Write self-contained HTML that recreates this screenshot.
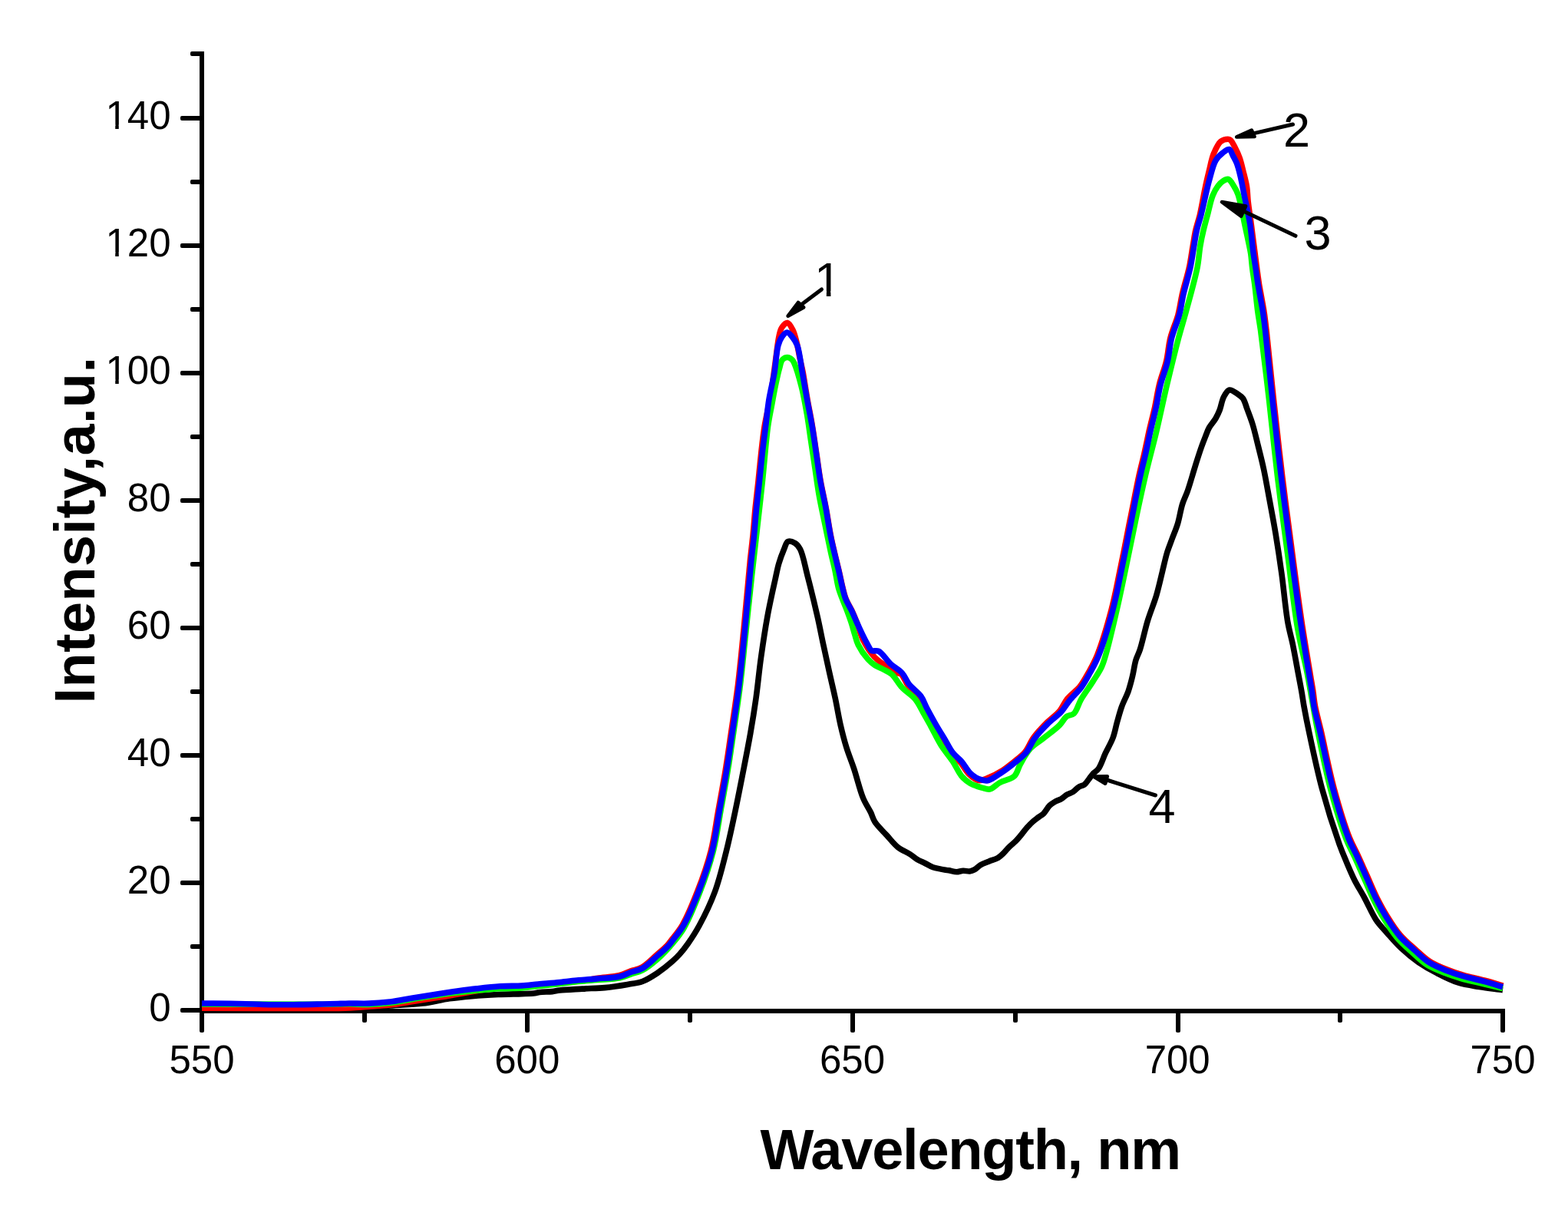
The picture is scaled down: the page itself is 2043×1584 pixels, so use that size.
<!DOCTYPE html>
<html><head><meta charset="utf-8"><title>Intensity vs Wavelength</title>
<style>
html,body{margin:0;padding:0;background:#fff;}
body{width:2043px;height:1584px;overflow:hidden;}
svg{display:block;}
.tk{font-family:"Liberation Sans",Arial,sans-serif;font-size:51px;fill:#000;}
.an{font-family:"Liberation Sans",Arial,sans-serif;font-size:63px;fill:#000;}
.tt{font-family:"Liberation Sans",Arial,sans-serif;font-size:74px;font-weight:bold;fill:#000;}
</style></head><body>
<svg width="2043" height="1584" viewBox="0 0 2043 1584">
<rect width="2043" height="1584" fill="#fff"/>
<rect x="260" y="67" width="6" height="1253" fill="#000"/>
<rect x="260" y="1314" width="1701" height="6" fill="#000"/>
<rect x="235" y="1313.0" width="29" height="6" rx="2" fill="#000"/>
<rect x="248" y="1230.0" width="16" height="6" rx="2" fill="#000"/>
<rect x="235" y="1147.0" width="29" height="6" rx="2" fill="#000"/>
<rect x="248" y="1064.0" width="16" height="6" rx="2" fill="#000"/>
<rect x="235" y="981.0" width="29" height="6" rx="2" fill="#000"/>
<rect x="248" y="898.0" width="16" height="6" rx="2" fill="#000"/>
<rect x="235" y="815.0" width="29" height="6" rx="2" fill="#000"/>
<rect x="248" y="732.0" width="16" height="6" rx="2" fill="#000"/>
<rect x="235" y="649.0" width="29" height="6" rx="2" fill="#000"/>
<rect x="248" y="566.0" width="16" height="6" rx="2" fill="#000"/>
<rect x="235" y="483.0" width="29" height="6" rx="2" fill="#000"/>
<rect x="248" y="400.0" width="16" height="6" rx="2" fill="#000"/>
<rect x="235" y="317.0" width="29" height="6" rx="2" fill="#000"/>
<rect x="248" y="234.0" width="16" height="6" rx="2" fill="#000"/>
<rect x="235" y="151.0" width="29" height="6" rx="2" fill="#000"/>
<rect x="248" y="67.0" width="16" height="6" rx="2" fill="#000"/>
<rect x="260.0" y="1315" width="6" height="30" rx="2" fill="#000"/>
<rect x="472.0" y="1315" width="6" height="17" rx="2" fill="#000"/>
<rect x="684.0" y="1315" width="6" height="30" rx="2" fill="#000"/>
<rect x="896.0" y="1315" width="6" height="17" rx="2" fill="#000"/>
<rect x="1108.0" y="1315" width="6" height="30" rx="2" fill="#000"/>
<rect x="1320.0" y="1315" width="6" height="17" rx="2" fill="#000"/>
<rect x="1532.0" y="1315" width="6" height="30" rx="2" fill="#000"/>
<rect x="1743.0" y="1315" width="6" height="17" rx="2" fill="#000"/>
<rect x="1955.0" y="1315" width="6" height="30" rx="2" fill="#000"/>
<g shape-rendering="auto">
<path d="M263.0,1315.5 C308.7,1315.5 368.0,1316.1 400.0,1315.5 C417.3,1315.2 426.7,1314.6 440.0,1314.0 C453.3,1313.4 467.3,1312.8 480.0,1312.0 C491.5,1311.3 501.6,1310.4 513.0,1309.6 C525.1,1308.8 538.2,1308.6 550.5,1307.1 C562.5,1305.6 574.5,1302.4 585.7,1300.8 C595.9,1299.3 604.9,1298.5 615.0,1297.6 C625.9,1296.7 637.9,1296.0 649.0,1295.5 C659.6,1295.0 671.2,1294.9 680.0,1294.6 C686.5,1294.4 692.8,1294.4 697.0,1293.8 C699.5,1293.5 700.5,1292.8 703.0,1292.5 C707.1,1291.9 714.8,1292.1 719.6,1291.6 C723.3,1291.2 725.2,1290.5 729.4,1290.0 C736.5,1289.2 748.9,1288.7 758.7,1288.1 C768.5,1287.5 778.3,1287.5 788.1,1286.6 C797.9,1285.6 808.7,1283.9 817.5,1282.4 C824.7,1281.2 830.7,1280.8 837.0,1278.5 C843.7,1276.0 850.2,1271.7 856.6,1267.5 C863.3,1263.0 871.0,1256.8 876.2,1252.2 C880.0,1248.9 882.4,1246.6 885.5,1243.1 C889.1,1239.0 892.7,1234.4 896.5,1229.0 C901.1,1222.4 906.0,1215.1 910.9,1206.0 C917.5,1193.9 925.5,1177.6 931.3,1162.0 C937.5,1145.4 941.8,1126.7 946.3,1109.0 C950.7,1091.4 954.4,1073.7 958.1,1056.0 C961.8,1038.4 965.3,1020.2 968.7,1003.0 C971.9,986.6 975.0,970.8 977.8,955.0 C980.5,939.7 982.8,925.5 985.0,909.8 C987.4,892.8 989.0,874.4 991.5,856.7 C994.0,839.0 996.9,819.5 999.8,803.7 C1002.1,790.7 1005.1,777.4 1007.0,768.4 C1008.2,762.9 1008.9,760.0 1010.0,755.0 C1011.4,748.8 1012.8,740.7 1014.8,734.0 C1016.7,727.6 1019.3,720.7 1021.5,715.5 C1023.2,711.6 1024.0,706.7 1026.6,705.5 C1028.9,704.4 1033.2,705.9 1035.8,707.5 C1038.5,709.1 1040.4,711.4 1042.5,715.3 C1046.4,722.6 1048.9,737.7 1052.3,750.7 C1056.4,766.6 1061.6,787.8 1065.2,803.7 C1068.1,816.6 1070.1,827.2 1072.6,839.0 C1075.1,850.8 1077.7,862.6 1080.3,874.4 C1082.9,886.2 1085.8,898.0 1088.3,909.8 C1090.8,921.6 1092.7,934.1 1095.3,945.1 C1097.6,955.0 1099.8,963.8 1102.7,973.1 C1105.6,982.6 1109.3,991.3 1112.7,1001.5 C1116.6,1013.2 1120.2,1029.1 1124.5,1039.4 C1127.6,1047.0 1131.7,1052.6 1134.5,1058.3 C1136.7,1062.9 1137.3,1066.5 1140.0,1070.8 C1143.5,1076.3 1150.1,1082.3 1155.2,1087.9 C1160.2,1093.4 1164.9,1099.8 1170.3,1104.0 C1175.1,1107.8 1181.1,1109.8 1185.5,1112.6 C1189.1,1114.9 1191.7,1117.4 1195.0,1119.4 C1198.3,1121.4 1201.9,1122.8 1205.3,1124.5 C1208.7,1126.2 1212.1,1128.4 1215.6,1129.7 C1218.9,1130.9 1222.4,1131.4 1225.8,1132.1 C1229.2,1132.8 1232.7,1133.2 1236.1,1133.8 C1239.5,1134.4 1243.1,1135.8 1246.4,1135.8 C1249.4,1135.8 1252.1,1134.3 1255.0,1134.2 C1257.8,1134.1 1260.9,1135.3 1263.5,1135.0 C1265.8,1134.7 1267.8,1133.9 1270.0,1132.7 C1272.5,1131.3 1274.7,1128.5 1277.6,1126.8 C1280.9,1124.9 1285.1,1123.5 1288.9,1121.9 C1292.7,1120.4 1297.0,1119.5 1300.3,1117.5 C1303.3,1115.7 1305.4,1113.4 1307.9,1111.0 C1310.5,1108.5 1312.9,1105.2 1315.5,1102.7 C1317.9,1100.3 1320.7,1098.3 1323.0,1096.1 C1325.1,1094.0 1326.6,1092.3 1328.7,1089.8 C1331.4,1086.6 1334.9,1081.7 1337.9,1078.3 C1340.5,1075.4 1342.9,1072.8 1345.5,1070.5 C1347.9,1068.3 1350.5,1066.5 1353.0,1064.6 C1355.3,1062.9 1357.6,1061.8 1359.8,1059.7 C1362.5,1057.0 1364.8,1052.0 1367.6,1049.3 C1370.0,1047.0 1372.6,1045.5 1375.2,1044.0 C1377.6,1042.6 1380.3,1042.1 1382.7,1040.7 C1385.3,1039.2 1387.7,1036.5 1390.3,1035.0 C1392.8,1033.6 1395.5,1033.1 1397.9,1031.6 C1400.6,1029.9 1402.8,1026.8 1405.5,1025.2 C1407.9,1023.7 1410.8,1023.6 1413.0,1022.0 C1415.3,1020.3 1416.9,1017.3 1418.7,1015.0 C1420.5,1012.7 1422.0,1010.2 1424.0,1008.0 C1426.1,1005.7 1429.0,1004.5 1431.2,1001.4 C1434.6,996.7 1437.2,987.9 1440.3,981.2 C1443.5,974.4 1447.5,967.9 1450.1,961.0 C1452.6,954.4 1453.6,947.5 1455.5,940.8 C1457.4,934.1 1459.1,927.3 1461.5,920.6 C1463.9,913.8 1467.7,907.2 1470.1,900.4 C1472.4,893.7 1474.1,887.0 1475.7,880.2 C1477.3,873.5 1478.1,866.0 1479.9,860.0 C1481.4,854.9 1483.4,852.1 1485.3,846.3 C1488.4,836.9 1491.7,820.5 1495.4,808.4 C1498.9,797.0 1503.5,786.4 1506.7,775.6 C1509.7,765.4 1511.9,754.9 1514.3,745.3 C1516.5,736.5 1518.3,727.6 1520.6,720.0 C1522.6,713.5 1524.8,708.4 1527.0,702.3 C1529.4,695.8 1532.3,689.3 1534.5,682.1 C1536.9,674.3 1538.2,664.4 1540.5,657.0 C1542.4,650.8 1545.0,646.2 1547.0,640.5 C1549.2,634.4 1551.1,627.7 1553.0,621.5 C1554.8,615.5 1556.4,610.0 1558.3,603.8 C1560.5,596.9 1563.2,588.4 1565.5,582.0 C1567.3,576.9 1569.0,572.7 1570.7,568.4 C1572.3,564.4 1573.4,560.7 1575.5,557.0 C1577.8,552.9 1581.7,549.0 1584.0,545.0 C1586.1,541.3 1587.6,538.1 1589.2,534.0 C1591.1,529.0 1592.0,521.6 1594.5,517.0 C1596.5,513.3 1598.8,508.7 1601.8,508.0 C1604.9,507.3 1610.0,511.5 1613.1,513.6 C1615.7,515.3 1617.7,516.5 1619.5,519.0 C1621.9,522.4 1623.1,527.9 1625.0,533.0 C1627.2,538.9 1629.8,545.4 1632.0,552.5 C1634.6,560.9 1636.8,571.0 1639.2,580.5 C1641.7,590.4 1644.2,600.1 1646.5,611.0 C1649.2,623.6 1651.6,638.0 1654.2,651.8 C1656.8,665.9 1659.5,679.8 1662.0,694.8 C1664.7,711.2 1667.3,728.4 1669.8,746.5 C1672.6,766.6 1674.8,792.8 1677.8,810.0 C1679.9,821.9 1682.3,829.3 1684.5,840.0 C1687.0,852.4 1689.9,868.9 1692.0,880.0 C1693.5,887.9 1694.6,893.5 1695.8,900.2 C1697.0,906.8 1697.7,912.6 1699.0,920.0 C1700.7,929.3 1702.5,938.8 1705.2,951.5 C1709.4,971.3 1715.8,1002.4 1722.5,1027.3 C1729.1,1051.9 1739.1,1083.0 1745.2,1100.0 C1748.6,1109.4 1750.7,1114.2 1753.9,1121.7 C1757.3,1129.8 1761.0,1138.7 1765.0,1146.7 C1768.9,1154.4 1773.2,1161.0 1777.5,1168.9 C1782.4,1177.9 1787.4,1190.0 1792.8,1198.1 C1797.2,1204.7 1801.6,1208.9 1806.7,1214.7 C1812.6,1221.3 1819.2,1229.1 1826.1,1235.6 C1833.0,1242.1 1840.6,1248.2 1848.3,1253.6 C1855.9,1258.8 1863.6,1263.2 1871.9,1267.5 C1880.7,1272.0 1890.3,1277.0 1899.7,1280.0 C1908.8,1282.9 1918.0,1284.0 1927.5,1285.6 C1937.4,1287.3 1947.8,1288.3 1958.0,1289.7" fill="none" stroke="#000" stroke-width="7.6" stroke-linejoin="round" stroke-linecap="butt"/>
<path d="M263.0,1313.3 C325.3,1313.2 420.5,1313.9 450.0,1313.1 C459.2,1312.9 462.6,1312.5 468.0,1312.2 C472.4,1311.9 475.2,1311.7 480.0,1311.3 C487.4,1310.7 498.7,1310.1 508.0,1309.0 C517.5,1307.9 526.3,1306.3 536.4,1304.7 C548.1,1302.9 562.9,1300.6 574.0,1298.8 C582.8,1297.4 589.7,1296.1 597.5,1294.8 C605.3,1293.5 612.6,1292.1 621.0,1290.8 C630.5,1289.3 641.5,1287.4 651.5,1286.3 C661.1,1285.3 669.7,1285.2 680.0,1284.5 C692.2,1283.6 706.7,1282.5 720.0,1281.3 C733.3,1280.1 749.3,1279.0 760.0,1277.5 C767.3,1276.5 771.4,1275.3 778.2,1274.2 C786.8,1272.9 799.5,1272.5 807.4,1270.5 C813.2,1269.1 817.1,1266.6 821.9,1264.9 C826.7,1263.2 831.3,1262.8 836.2,1260.1 C842.5,1256.6 849.8,1249.0 855.6,1243.9 C860.6,1239.5 865.6,1235.5 869.2,1231.6 C872.1,1228.5 873.6,1226.1 876.3,1222.6 C880.0,1217.7 884.8,1212.3 889.2,1204.8 C895.6,1193.8 902.6,1176.8 908.6,1161.5 C915.1,1144.9 921.7,1126.4 926.2,1108.6 C930.7,1091.2 932.7,1073.4 935.9,1055.7 C939.1,1038.1 942.5,1020.0 945.3,1002.8 C948.0,986.4 950.0,971.9 952.5,954.8 C955.4,935.2 958.8,913.5 961.5,891.9 C964.3,869.1 966.4,846.3 968.9,821.3 C971.7,792.8 975.1,752.6 977.4,729.9 C978.8,716.3 979.9,708.4 981.0,697.4 C982.2,685.8 982.9,673.7 984.1,662.0 C985.3,650.2 986.8,638.4 988.0,626.6 C989.3,614.8 990.3,603.0 991.6,591.2 C992.9,579.4 994.1,568.0 996.0,555.9 C998.1,543.0 1001.9,528.2 1004.0,516.0 C1005.7,505.9 1006.7,497.2 1008.0,488.0 C1009.2,479.2 1010.3,470.5 1011.5,462.0 C1012.6,453.8 1013.5,444.4 1015.0,438.0 C1016.0,433.6 1016.5,430.0 1018.5,427.0 C1020.3,424.2 1023.7,420.2 1026.0,420.5 C1028.5,420.8 1031.1,426.2 1033.0,430.0 C1035.3,434.5 1036.6,440.3 1038.0,446.0 C1039.6,452.3 1040.6,459.5 1042.0,466.0 C1043.3,472.2 1044.6,476.9 1046.0,484.0 C1047.9,494.0 1049.9,508.5 1052.1,520.6 C1054.2,532.5 1056.7,544.2 1058.6,556.0 C1060.6,567.8 1062.1,579.6 1063.9,591.4 C1065.7,603.1 1067.1,615.0 1069.2,626.7 C1071.3,638.5 1074.1,650.3 1076.3,662.0 C1078.5,673.8 1080.3,687.0 1082.4,697.4 C1084.0,705.8 1085.6,712.4 1087.4,719.9 C1089.1,727.5 1091.1,735.0 1092.9,742.6 C1094.7,750.2 1096.3,758.6 1098.0,765.4 C1099.4,771.0 1100.3,775.6 1102.3,780.5 C1104.3,785.6 1107.7,790.6 1110.1,795.7 C1112.4,800.7 1114.3,805.3 1116.5,810.9 C1119.0,817.4 1120.5,825.4 1124.0,832.5 C1127.9,840.4 1134.1,850.1 1139.5,856.0 C1143.6,860.4 1147.7,862.7 1152.0,866.0 C1156.5,869.5 1161.8,874.7 1166.0,876.5 C1168.8,877.7 1171.3,876.2 1173.7,877.8 C1177.3,880.3 1179.3,888.1 1183.1,893.0 C1187.3,898.2 1194.4,902.7 1198.2,908.0 C1201.6,912.7 1202.8,917.6 1205.6,922.9 C1209.0,929.3 1213.2,937.0 1217.1,943.8 C1220.8,950.3 1224.7,956.4 1228.5,962.7 C1232.3,969.1 1235.7,976.5 1239.9,981.9 C1243.5,986.5 1247.7,989.1 1251.4,993.3 C1255.4,997.9 1258.5,1004.6 1262.8,1008.6 C1266.5,1012.1 1270.7,1015.9 1274.8,1016.6 C1278.5,1017.3 1281.9,1015.4 1286.1,1013.8 C1291.8,1011.7 1299.7,1007.7 1305.6,1004.0 C1311.1,1000.6 1315.7,996.6 1320.7,992.6 C1325.7,988.5 1331.2,984.7 1335.5,979.6 C1340.0,974.2 1342.3,966.7 1346.7,960.6 C1351.6,954.0 1358.0,947.3 1363.8,941.4 C1369.3,935.9 1376.0,931.6 1380.6,926.1 C1384.8,921.1 1386.5,915.2 1390.7,910.1 C1395.2,904.5 1402.4,900.0 1407.1,894.2 C1411.6,888.5 1414.8,882.1 1418.5,875.6 C1422.4,868.5 1425.9,862.6 1429.7,853.1 C1435.6,838.4 1442.8,814.2 1448.0,794.5 C1453.1,775.1 1456.6,755.4 1460.7,735.8 C1464.8,716.3 1468.5,696.7 1472.4,677.1 C1476.4,657.6 1480.8,634.1 1484.3,618.3 C1486.6,607.7 1488.6,600.9 1490.7,591.7 C1492.9,582.0 1495.0,571.5 1497.2,561.4 C1499.5,551.3 1502.2,541.3 1504.5,531.1 C1506.7,521.1 1508.0,510.8 1510.5,500.8 C1513.0,490.6 1517.2,480.7 1519.6,470.5 C1522.0,460.5 1522.4,450.2 1524.9,440.2 C1527.5,430.0 1532.3,419.8 1535.0,409.9 C1537.4,400.6 1538.3,392.2 1540.5,382.6 C1543.0,371.8 1547.1,359.0 1549.5,348.0 C1551.6,338.1 1552.8,328.3 1554.3,319.7 C1555.6,312.5 1556.3,306.5 1557.8,299.9 C1559.4,293.1 1561.6,287.3 1563.4,279.6 C1565.7,269.9 1567.8,256.3 1570.0,246.0 C1571.8,237.3 1573.6,229.8 1575.5,222.0 C1577.3,214.6 1578.6,206.8 1581.3,200.3 C1583.8,194.4 1586.8,187.4 1590.6,184.3 C1593.3,182.1 1597.6,181.2 1599.9,181.2 C1601.3,181.2 1602.1,181.5 1603.2,182.4 C1605.2,184.0 1607.3,188.7 1609.2,192.3 C1611.3,196.3 1613.4,200.8 1615.1,205.6 C1617.0,210.9 1618.3,216.8 1619.8,222.8 C1621.4,229.2 1623.3,236.0 1624.4,242.7 C1625.5,249.3 1625.4,255.3 1626.2,262.6 C1627.2,271.5 1628.7,280.5 1630.2,292.0 C1632.3,308.1 1635.8,335.7 1637.7,350.0 C1638.8,358.3 1639.3,362.2 1640.5,369.8 C1642.1,379.8 1645.1,394.2 1646.8,405.0 C1648.2,414.0 1648.7,418.9 1650.0,429.8 C1652.4,450.7 1656.1,489.7 1659.5,520.8 C1663.1,553.6 1666.8,588.1 1670.9,621.7 C1675.0,655.4 1679.7,690.2 1684.0,722.6 C1688.0,752.7 1691.9,782.3 1696.0,809.8 C1699.7,834.4 1704.7,863.5 1707.4,879.8 C1708.8,888.5 1709.8,893.3 1710.8,900.0 C1711.8,906.6 1712.1,912.4 1713.5,919.7 C1715.2,929.0 1718.0,938.4 1721.0,951.2 C1725.6,970.9 1731.6,1002.8 1738.1,1026.9 C1744.2,1049.4 1752.2,1075.7 1758.4,1091.5 C1762.2,1101.1 1765.5,1106.1 1769.2,1114.1 C1773.2,1122.8 1777.5,1132.6 1781.7,1141.9 C1785.8,1151.1 1789.7,1160.7 1794.1,1169.6 C1798.5,1178.2 1802.9,1186.5 1808.0,1194.5 C1813.0,1202.6 1818.3,1210.9 1824.4,1218.0 C1830.3,1224.9 1837.3,1230.6 1843.8,1236.4 C1850.1,1242.0 1856.0,1248.0 1863.0,1252.5 C1870.1,1257.1 1878.7,1260.4 1886.4,1263.4 C1893.4,1266.2 1899.7,1268.1 1907.1,1270.3 C1915.6,1272.7 1926.0,1274.8 1934.8,1277.2 C1943.0,1279.4 1950.5,1281.8 1958.4,1284.1" fill="none" stroke="#ff0000" stroke-width="7.6" stroke-linejoin="round" stroke-linecap="butt"/>
<path d="M263.0,1308.0 C315.3,1308.1 386.4,1308.4 420.0,1308.2 C435.9,1308.1 444.3,1307.7 455.0,1307.8 C464.0,1307.9 471.4,1308.7 480.0,1308.5 C489.1,1308.3 498.7,1307.6 508.0,1306.5 C517.5,1305.4 526.3,1303.4 536.4,1301.7 C548.1,1299.8 562.9,1297.4 574.0,1295.8 C582.7,1294.6 589.7,1293.7 597.5,1292.8 C605.3,1291.9 612.7,1291.1 621.0,1290.3 C630.5,1289.4 641.5,1288.3 651.5,1287.8 C661.2,1287.3 671.2,1287.6 680.0,1287.0 C687.5,1286.4 693.5,1285.3 701.0,1284.5 C709.8,1283.5 720.3,1282.5 729.4,1281.5 C737.8,1280.5 745.6,1279.3 753.8,1278.5 C761.9,1277.7 769.8,1277.2 778.3,1276.5 C787.7,1275.7 799.7,1275.5 807.7,1273.8 C813.5,1272.6 817.5,1270.4 822.4,1268.8 C827.3,1267.2 832.0,1266.6 837.0,1264.0 C843.3,1260.7 850.3,1255.1 856.6,1249.5 C863.4,1243.5 870.3,1236.0 876.2,1229.0 C881.7,1222.5 886.1,1217.4 891.0,1209.0 C897.9,1197.1 905.3,1179.1 911.5,1163.0 C918.1,1145.9 924.6,1127.1 929.2,1109.0 C933.7,1091.4 935.8,1073.7 939.0,1056.0 C942.2,1038.3 945.6,1020.2 948.4,1003.0 C951.1,986.6 953.1,972.1 955.6,955.0 C958.4,935.5 961.8,913.7 964.5,892.1 C967.3,869.2 969.5,845.0 972.0,821.4 C974.5,797.8 977.1,772.6 979.5,750.7 C981.6,731.7 983.4,716.5 985.5,697.5 C988.0,675.6 990.9,650.4 993.4,626.8 C995.9,603.2 998.0,574.2 1000.5,556.0 C1002.1,544.5 1003.8,537.1 1005.5,528.0 C1007.1,519.4 1008.5,511.1 1010.2,503.0 C1011.8,495.2 1013.7,486.3 1015.5,480.0 C1016.8,475.5 1017.3,470.9 1019.5,468.5 C1021.1,466.7 1023.7,465.5 1025.8,465.5 C1027.9,465.5 1030.5,467.1 1032.0,468.5 C1033.3,469.7 1033.8,470.7 1034.8,473.0 C1037.3,478.5 1041.4,492.5 1044.1,503.0 C1047.0,514.2 1049.1,526.6 1051.2,538.4 C1053.3,550.1 1054.7,561.9 1056.5,573.7 C1058.3,585.5 1060.0,597.3 1061.8,609.1 C1063.6,620.9 1065.0,632.7 1067.1,644.5 C1069.2,656.3 1071.7,667.7 1074.2,679.8 C1076.9,692.8 1080.1,708.5 1082.6,720.0 C1084.5,728.7 1086.3,735.1 1087.9,742.7 C1089.5,750.3 1090.6,758.7 1092.4,765.5 C1093.9,771.1 1095.8,775.6 1097.7,780.6 C1099.6,785.7 1101.9,790.7 1103.8,795.8 C1105.7,800.8 1107.5,805.8 1109.1,810.9 C1110.7,815.9 1112.1,821.2 1113.6,826.1 C1115.1,830.8 1115.8,835.2 1118.2,840.0 C1121.1,845.9 1126.5,853.8 1130.7,858.5 C1133.8,862.0 1136.7,864.3 1140.0,866.5 C1143.2,868.6 1146.5,869.6 1150.0,871.5 C1153.8,873.6 1158.2,875.1 1162.0,878.4 C1166.7,882.5 1170.2,890.2 1175.2,895.5 C1180.3,901.0 1187.5,904.9 1192.3,910.6 C1197.0,916.2 1200.0,923.3 1203.6,929.5 C1207.0,935.3 1209.7,940.4 1213.1,946.6 C1217.2,954.0 1221.5,963.5 1226.4,971.2 C1231.1,978.6 1237.0,985.1 1241.5,992.0 C1245.7,998.4 1248.7,1006.0 1252.9,1011.0 C1256.4,1015.1 1259.9,1018.0 1264.2,1020.5 C1268.7,1023.1 1274.8,1024.8 1279.4,1026.1 C1283.1,1027.1 1286.0,1028.7 1289.5,1028.0 C1293.8,1027.2 1297.8,1022.2 1302.7,1019.5 C1308.4,1016.4 1317.2,1015.3 1321.7,1011.0 C1325.7,1007.1 1326.2,1001.2 1329.2,995.8 C1332.9,989.3 1337.2,980.8 1342.5,975.0 C1347.4,969.6 1353.6,966.4 1359.5,961.7 C1366.1,956.4 1375.0,950.1 1380.4,944.7 C1384.4,940.7 1386.3,935.9 1389.8,933.3 C1392.7,931.2 1396.5,932.0 1399.3,929.5 C1403.3,925.8 1405.0,917.1 1408.8,910.6 C1413.1,903.3 1419.3,895.2 1423.9,887.9 C1428.0,881.3 1432.4,875.2 1435.3,868.9 C1437.9,863.2 1438.9,859.4 1441.0,852.0 C1444.9,838.7 1450.6,814.2 1455.0,795.0 C1459.5,775.6 1463.5,755.8 1467.6,736.2 C1471.7,716.6 1475.5,697.0 1479.7,677.5 C1483.8,658.0 1488.0,638.4 1492.5,619.0 C1497.0,599.8 1502.2,581.2 1506.8,561.8 C1511.5,541.9 1515.7,521.4 1520.5,501.2 C1525.3,481.0 1530.9,458.1 1535.5,440.6 C1539.1,427.2 1541.9,418.4 1545.5,405.2 C1550.0,388.5 1557.0,364.1 1560.1,348.3 C1562.2,337.3 1562.4,328.6 1563.9,320.0 C1565.1,312.8 1566.4,306.8 1568.0,300.2 C1569.6,293.5 1571.4,287.1 1573.3,280.0 C1575.4,272.1 1577.3,261.7 1580.0,255.0 C1582.0,250.0 1584.1,246.0 1586.6,242.7 C1588.6,239.9 1590.8,237.5 1593.3,236.0 C1595.5,234.6 1598.3,232.9 1600.5,233.5 C1603.2,234.3 1605.7,239.4 1607.8,242.7 C1609.9,246.0 1611.6,249.3 1613.1,253.3 C1614.8,258.0 1615.8,263.6 1617.1,269.2 C1618.5,275.4 1619.7,282.2 1621.1,289.1 C1622.6,296.5 1624.5,304.8 1626.0,312.0 C1627.3,318.4 1628.6,323.8 1629.6,330.0 C1630.6,336.5 1630.9,343.5 1631.8,350.2 C1632.6,356.8 1633.7,362.4 1634.7,370.0 C1636.0,380.0 1637.3,394.5 1638.7,405.2 C1639.9,414.2 1641.0,419.1 1642.5,430.0 C1645.3,450.8 1649.9,489.9 1653.5,521.0 C1657.3,553.8 1660.6,588.3 1664.6,621.9 C1668.7,655.6 1673.4,689.5 1677.8,722.8 C1682.1,755.4 1686.0,791.9 1690.9,819.7 C1694.6,841.0 1699.0,855.7 1703.0,875.8 C1707.6,899.1 1711.7,926.3 1716.8,951.5 C1721.9,976.8 1727.1,1003.1 1733.5,1027.3 C1739.6,1050.1 1747.7,1076.9 1754.0,1093.0 C1757.8,1102.8 1761.1,1107.9 1764.8,1116.0 C1768.9,1124.9 1773.1,1134.7 1777.3,1144.0 C1781.5,1153.3 1785.3,1163.0 1789.8,1172.0 C1794.1,1180.8 1798.6,1189.3 1803.7,1197.5 C1808.8,1205.8 1814.2,1214.2 1820.3,1221.5 C1826.2,1228.5 1833.2,1234.5 1839.8,1240.5 C1846.2,1246.3 1852.1,1252.3 1859.2,1256.8 C1866.4,1261.3 1875.1,1264.5 1882.8,1267.5 C1889.9,1270.3 1896.2,1272.3 1903.7,1274.5 C1912.2,1277.0 1922.3,1279.0 1931.4,1281.2 C1940.4,1283.3 1949.1,1285.4 1958.0,1287.5" fill="none" stroke="#00ff00" stroke-width="7.6" stroke-linejoin="round" stroke-linecap="butt"/>
<path d="M263.0,1307.0 C275.3,1307.1 288.3,1307.0 300.0,1307.2 C310.5,1307.4 320.6,1307.7 330.0,1308.0 C338.4,1308.3 345.2,1308.7 354.0,1308.8 C364.8,1308.9 378.5,1308.7 390.0,1308.6 C400.5,1308.5 411.0,1308.2 420.0,1308.0 C427.3,1307.8 433.8,1307.7 440.0,1307.5 C445.4,1307.3 449.4,1307.1 455.0,1307.0 C462.3,1306.9 471.4,1307.4 480.0,1307.1 C489.1,1306.8 498.7,1306.1 508.0,1305.0 C517.5,1303.8 526.3,1301.9 536.4,1300.2 C548.1,1298.3 562.9,1296.0 574.0,1294.3 C582.7,1293.0 589.7,1291.9 597.5,1290.8 C605.3,1289.7 612.6,1288.7 621.0,1287.8 C630.5,1286.7 641.5,1285.4 651.5,1284.8 C661.2,1284.2 671.2,1284.5 680.0,1284.0 C687.5,1283.5 693.5,1282.7 701.0,1282.0 C709.8,1281.2 720.3,1280.4 729.4,1279.5 C737.8,1278.7 745.7,1277.6 753.8,1276.8 C762.0,1276.0 769.8,1275.7 778.3,1274.9 C787.7,1274.1 799.7,1273.9 807.7,1272.0 C813.6,1270.6 817.5,1268.1 822.4,1266.3 C827.3,1264.5 832.0,1264.2 837.0,1261.4 C843.4,1257.8 850.7,1250.1 856.6,1245.0 C861.6,1240.6 866.6,1236.6 870.3,1232.6 C873.2,1229.5 874.8,1227.1 877.5,1223.5 C881.2,1218.5 886.1,1213.1 890.5,1205.5 C896.9,1194.4 904.0,1177.4 910.0,1162.0 C916.5,1145.4 923.1,1126.8 927.7,1109.0 C932.2,1091.5 934.2,1073.7 937.4,1056.0 C940.6,1038.3 944.0,1020.2 946.8,1003.0 C949.5,986.6 951.5,972.1 954.0,955.0 C956.9,935.5 960.3,913.7 963.0,892.1 C965.8,869.2 967.9,846.5 970.4,821.4 C973.2,792.9 976.6,752.8 978.9,730.0 C980.3,716.4 981.4,708.6 982.5,697.5 C983.6,686.0 984.4,673.9 985.6,662.1 C986.8,650.3 988.3,638.6 989.5,626.8 C990.8,615.0 991.8,603.2 993.1,591.4 C994.4,579.6 996.0,567.9 997.5,556.1 C999.0,544.3 1000.0,532.5 1001.9,520.7 C1003.8,508.9 1007.0,497.2 1009.0,485.4 C1011.0,473.6 1011.5,458.4 1013.9,450.0 C1015.3,445.0 1016.8,441.5 1019.0,438.5 C1020.8,436.1 1023.3,433.0 1025.5,433.0 C1027.7,433.0 1030.0,436.1 1032.0,438.5 C1034.5,441.5 1036.9,444.9 1038.8,450.0 C1041.9,458.4 1043.3,473.6 1045.4,485.4 C1047.5,497.2 1049.5,508.9 1051.6,520.7 C1053.8,532.5 1056.3,544.3 1058.3,556.1 C1060.3,567.9 1061.8,579.6 1063.6,591.4 C1065.4,603.2 1066.8,615.0 1068.9,626.8 C1071.0,638.6 1073.8,650.3 1076.0,662.1 C1078.2,673.9 1080.0,687.1 1082.1,697.5 C1083.7,705.9 1085.4,712.5 1087.1,720.0 C1088.9,727.6 1090.8,735.1 1092.6,742.7 C1094.4,750.3 1096.0,758.7 1097.7,765.5 C1099.1,771.1 1100.0,775.7 1102.0,780.6 C1104.0,785.8 1107.4,790.7 1109.8,795.8 C1112.2,800.8 1114.1,805.9 1116.4,810.9 C1118.7,816.0 1121.1,821.2 1123.5,826.1 C1125.8,830.9 1128.5,836.1 1130.7,840.0 C1132.4,842.9 1133.2,846.1 1135.5,847.5 C1137.9,848.9 1141.6,846.8 1144.8,848.3 C1149.8,850.7 1155.2,860.1 1160.5,865.0 C1165.3,869.4 1171.1,872.0 1175.2,876.5 C1179.2,880.9 1180.8,886.9 1184.7,891.7 C1188.9,897.0 1195.9,901.4 1199.8,906.8 C1203.3,911.6 1204.6,916.6 1207.4,922.0 C1210.8,928.4 1214.9,936.1 1218.8,942.8 C1222.5,949.3 1226.4,955.4 1230.2,961.7 C1234.0,968.0 1237.4,975.4 1241.5,980.7 C1245.0,985.2 1249.3,987.8 1252.9,992.0 C1256.9,996.6 1260.1,1003.3 1264.2,1007.2 C1267.7,1010.5 1271.6,1013.2 1275.6,1014.8 C1279.3,1016.2 1282.8,1017.5 1287.0,1016.7 C1292.8,1015.6 1300.5,1009.3 1306.5,1005.3 C1312.0,1001.7 1316.7,997.9 1321.7,993.9 C1326.8,989.8 1332.5,985.9 1336.8,980.7 C1341.4,975.2 1343.7,967.8 1348.2,961.7 C1353.0,955.1 1359.4,948.6 1365.2,942.8 C1370.7,937.3 1377.4,933.0 1382.3,927.7 C1386.7,922.9 1389.4,917.6 1393.6,912.5 C1398.2,906.9 1404.3,901.5 1408.8,895.5 C1413.2,889.5 1416.5,883.2 1420.2,876.5 C1424.1,869.3 1427.7,863.3 1431.5,853.8 C1437.5,839.0 1444.6,814.7 1449.8,795.0 C1454.9,775.5 1458.4,755.8 1462.5,736.2 C1466.6,716.6 1470.3,697.1 1474.2,677.5 C1478.1,657.9 1482.5,634.4 1486.0,618.7 C1488.3,608.1 1490.3,601.3 1492.4,592.1 C1494.6,582.3 1496.6,571.9 1498.9,561.8 C1501.2,551.7 1503.9,541.6 1506.1,531.5 C1508.3,521.4 1509.6,511.2 1512.1,501.2 C1514.6,491.0 1518.8,481.1 1521.2,470.9 C1523.6,460.9 1524.0,450.6 1526.5,440.6 C1529.1,430.4 1533.9,420.2 1536.5,410.3 C1539.0,401.0 1539.8,392.6 1542.0,383.0 C1544.5,372.1 1548.6,359.3 1551.0,348.3 C1553.1,338.4 1554.3,328.6 1555.8,320.0 C1557.0,312.8 1557.8,306.8 1559.3,300.2 C1560.8,293.5 1562.8,288.1 1564.9,280.0 C1568.0,267.9 1572.0,247.6 1575.6,234.7 C1578.4,224.9 1580.3,215.3 1584.0,209.0 C1586.6,204.5 1590.1,201.5 1593.3,199.0 C1596.0,196.9 1599.3,193.9 1601.5,194.5 C1603.7,195.1 1604.9,200.0 1606.5,202.9 C1608.1,205.9 1609.8,208.6 1611.2,212.2 C1613.0,216.7 1614.4,222.2 1615.8,228.1 C1617.6,235.2 1618.9,243.0 1620.7,252.0 C1623.0,263.5 1626.5,278.4 1628.6,291.5 C1630.6,304.4 1631.6,319.2 1633.1,330.0 C1634.2,337.8 1635.2,343.5 1636.2,350.2 C1637.2,356.8 1637.8,362.5 1639.0,370.0 C1640.6,380.1 1643.6,394.5 1645.3,405.2 C1646.7,414.2 1647.2,419.1 1648.5,430.0 C1650.9,450.8 1654.6,489.9 1658.0,521.0 C1661.6,553.8 1665.3,588.3 1669.4,621.9 C1673.5,655.6 1678.2,690.4 1682.5,722.8 C1686.5,752.9 1690.4,782.6 1694.5,810.0 C1698.2,834.6 1703.2,863.7 1705.9,880.0 C1707.4,888.8 1708.3,893.5 1709.3,900.2 C1710.3,906.8 1710.6,912.7 1712.0,920.0 C1713.7,929.3 1716.5,938.7 1719.5,951.5 C1724.1,971.3 1730.2,1003.2 1736.7,1027.3 C1742.8,1049.8 1750.8,1076.1 1757.0,1092.0 C1760.8,1101.7 1764.1,1106.7 1767.8,1114.7 C1771.9,1123.5 1776.1,1133.2 1780.3,1142.5 C1784.5,1151.8 1788.3,1161.4 1792.8,1170.3 C1797.1,1178.9 1801.6,1187.2 1806.7,1195.3 C1811.8,1203.4 1817.2,1211.9 1823.3,1219.0 C1829.2,1225.9 1836.2,1231.6 1842.8,1237.5 C1849.2,1243.2 1855.1,1249.3 1862.2,1253.8 C1869.4,1258.4 1878.1,1261.7 1885.8,1264.8 C1892.9,1267.6 1899.2,1269.5 1906.7,1271.7 C1915.2,1274.2 1925.6,1276.2 1934.4,1278.6 C1942.6,1280.8 1950.1,1283.2 1958.0,1285.5" fill="none" stroke="#0000ff" stroke-width="7.6" stroke-linejoin="round" stroke-linecap="butt"/>
</g>
<defs><clipPath id="c1_100"><path clip-rule="evenodd" d="M0,0 H2043 V1584 H0 Z M140.90,494.57 H150.23 V502.30 H140.90 Z M154.74,494.57 H164.55 V502.30 H154.74 Z"/></clipPath><clipPath id="c1_120"><path clip-rule="evenodd" d="M0,0 H2043 V1584 H0 Z M140.90,328.57 H150.23 V336.30 H140.90 Z M154.74,328.57 H164.55 V336.30 H154.74 Z"/></clipPath><clipPath id="c1_140"><path clip-rule="evenodd" d="M0,0 H2043 V1584 H0 Z M140.90,162.57 H150.23 V170.30 H140.90 Z M154.74,162.57 H164.55 V170.30 H154.74 Z"/></clipPath><clipPath id="c1_ann"><path clip-rule="evenodd" d="M0,0 H2043 V1584 H0 Z M1065.31,378.92 H1076.84 V388.00 H1065.31 Z M1082.41,378.92 H1094.53 V388.00 H1082.41 Z"/></clipPath></defs>
<path d="M1045.5,395.8 L1070.5,377.0" stroke="#000" stroke-width="5.0" stroke-linecap="round" fill="none"/><path d="M1026.7,411.6 L1040.0,394.1 L1047.1,400.4 Z" fill="#000" stroke="#000" stroke-width="4.8" stroke-linejoin="round"/>
<path d="M1635.1,173.4 L1684.5,162.0" stroke="#000" stroke-width="5.0" stroke-linecap="round" fill="none"/><path d="M1611.3,178.4 L1630.8,169.7 L1634.4,177.9 Z" fill="#000" stroke="#000" stroke-width="4.8" stroke-linejoin="round"/>
<path d="M1622.2,276.0 L1688.0,307.3" stroke="#000" stroke-width="5.0" stroke-linecap="round" fill="none"/><path d="M1592.1,263.1 L1623.0,268.5 L1617.1,281.6 Z" fill="#000" stroke="#000" stroke-width="4.8" stroke-linejoin="round"/>
<path d="M1443.8,1016.5 L1505.5,1036.0" stroke="#000" stroke-width="5.0" stroke-linecap="round" fill="none"/><path d="M1425.3,1011.7 L1442.7,1011.3 L1440.1,1020.6 Z" fill="#000" stroke="#000" stroke-width="4.8" stroke-linejoin="round"/>
<text x="222.5" y="1330.3" text-anchor="end" class="tk">0</text>
<text x="222.5" y="1164.3" text-anchor="end" class="tk">20</text>
<text x="222.5" y="998.3" text-anchor="end" class="tk">40</text>
<text x="222.5" y="832.3" text-anchor="end" class="tk">60</text>
<text x="222.5" y="666.3" text-anchor="end" class="tk">80</text>
<text x="222.5" y="500.3" text-anchor="end" class="tk" clip-path="url(#c1_100)">100</text>
<text x="222.5" y="334.3" text-anchor="end" class="tk" clip-path="url(#c1_120)">120</text>
<text x="222.5" y="168.3" text-anchor="end" class="tk" clip-path="url(#c1_140)">140</text>
<text x="263.0" y="1398" text-anchor="middle" class="tk">550</text>
<text x="686.8" y="1398" text-anchor="middle" class="tk">600</text>
<text x="1110.5" y="1398" text-anchor="middle" class="tk">650</text>
<text x="1534.2" y="1398" text-anchor="middle" class="tk">700</text>
<text x="1958.0" y="1398" text-anchor="middle" class="tk">750</text>
<text x="1061" y="386" class="an" clip-path="url(#c1_ann)">1</text>
<text x="1672" y="191" class="an">2</text>
<text x="1699.5" y="325.3" class="an">3</text>
<text x="1496.6" y="1072" class="an">4</text>
<text x="990.5" y="1522.5" class="tt" textLength="548.5" lengthAdjust="spacing">Wavelength, nm</text>
<text transform="translate(122.5,916.5) rotate(-90)" x="0" y="0" class="tt" textLength="451.5" lengthAdjust="spacing">Intensity,a.u.</text>
</svg>
</body></html>
